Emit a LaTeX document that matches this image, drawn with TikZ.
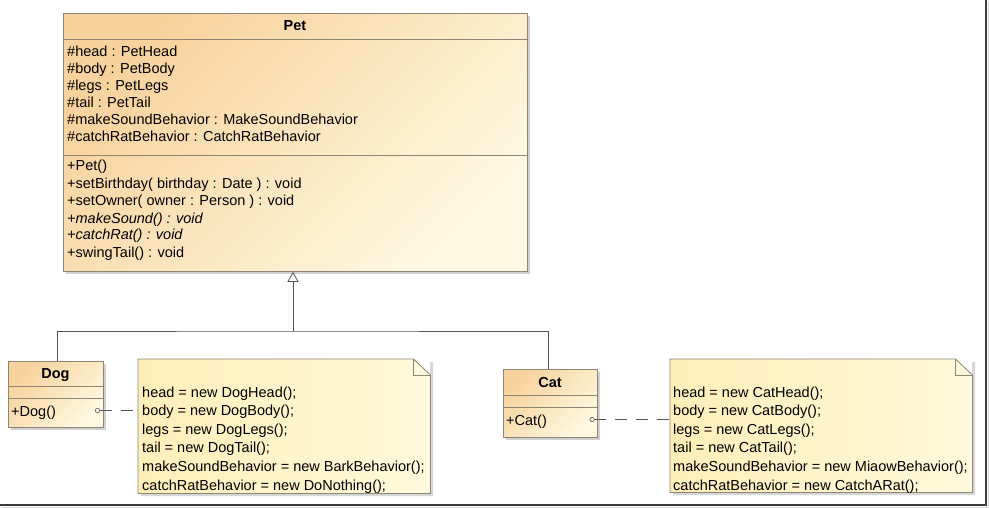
\documentclass[tikz,border=0pt]{standalone}
\usepackage{fontspec}
\setmainfont{Liberation Sans}
\usetikzlibrary{arrows.meta,shadows}
\definecolor{clsA}{HTML}{F7D29C}
\definecolor{clsB}{HTML}{FFF9E2}
\definecolor{noteA}{HTML}{FFEEB8}
\definecolor{noteB}{HTML}{FFF9DC}
\definecolor{edge}{HTML}{8E8574}
\definecolor{lnk}{HTML}{555555}
\definecolor{frame}{HTML}{3C3C3C}
\begin{document}
\begin{tikzpicture}[x=1pt,y=-1pt,
  classbox/.style={draw=edge, line width=0.8pt, top color=clsA, bottom color=clsB, shading angle=45,
    drop shadow={shadow xshift=2.5pt, shadow yshift=-2.5pt, fill=black!40, opacity=0.45},
    inner sep=0pt, anchor=north west},
  notebox/.style={inner sep=0pt, anchor=north west},
  notefill/.style={draw=edge, line width=0.8pt, left color=noteA, right color=noteB},
  sep/.style={draw=edge, line width=0.8pt},
  txt/.style={anchor=base west, inner sep=0pt, font=\fontsize{14.5}{17}\selectfont},
  ttl/.style={anchor=base, inner sep=0pt, font=\fontsize{14.5}{17}\selectfont\bfseries},
  rel/.style={draw=lnk, line width=0.8pt},
  anchorline/.style={draw=lnk, line width=0.8pt, dash pattern=on 12pt off 9pt,
    {Circle[open, length=5pt, width=5pt, fill=white, line width=0.6pt]}-}
]
\useasboundingbox (0,0) rectangle (989,508);

% frame of the screenshot
\fill[black!15] (2,507) -- (988,507) -- (988,2) -- (989,2) -- (989,508) -- (2,508) -- cycle;
\draw[frame, line width=2pt] (0,505) -- (986,505) -- (986,0);

% ---------- Pet ----------
\node[classbox, minimum width=464pt, minimum height=258pt] (pet) at (63,13) {};
\draw[sep] (63,39) -- (527,39);
\draw[sep] (63,155) -- (527,155);
\node[ttl] (petT) at (295,31) {Pet};
\node[txt] (pa1) at (67,57) {\#head : PetHead};
\node[txt] (pa2) at (67,74) {\#body : PetBody};
\node[txt] (pa3) at (67,91) {\#legs : PetLegs};
\node[txt] (pa4) at (67,108) {\#tail : PetTail};
\node[txt] (pa5) at (67,125) {\#makeSoundBehavior : MakeSoundBehavior};
\node[txt] (pa6) at (67,142) {\#catchRatBehavior : CatchRatBehavior};
\node[txt] (pm1) at (67,171) {+Pet()};
\node[txt] (pm2) at (67,188.5) {+setBirthday( birthday : Date ) : void};
\node[txt] (pm3) at (67,206) {+setOwner( owner : Person ) : void};
\node[txt] (pm4) at (67,223) {\itshape +makeSound() : void};
\node[txt] (pm5) at (67,240) {\itshape +catchRat() : void};
\node[txt] (pm6) at (67,257.5) {+swingTail() : void};

% ---------- Dog ----------
\node[classbox, minimum width=95pt, minimum height=66pt] (dog) at (8,361) {};
\draw[sep] (8,386) -- (103,386);
\draw[sep] (8,398) -- (103,398);
\node[ttl] (dogT) at (55.5,378) {Dog};
\node[txt] (dogm) at (11,416) {+Dog()};

% ---------- Cat ----------
\node[classbox, minimum width=94pt, minimum height=68pt] (cat) at (503,369) {};
\draw[sep] (503,395) -- (597,395);
\draw[sep] (503,407) -- (597,407);
\node[ttl] (catT) at (550,387) {Cat};
\node[txt] (catm) at (506,425) {+Cat()};

% ---------- generalization ----------
\coordinate (j) at (293,331);
\draw[rel] (dog.north -| 57,0) |- (j) -| (cat.north -| 548,0);
\draw[rel, -{Triangle[open, length=10pt, width=11pt, line width=0.8pt, fill=white]}] (j) -- (j |- pet.south);

% ---------- Dog note ----------
\node[notebox, minimum width=292pt, minimum height=134pt] (dognote) at (138,359) {};
\fill[black!35, opacity=0.45] (141,496) -- (433,496) -- (433,362) -- (430,362) -- (430,493) -- (141,493) -- cycle;
\path[notefill] (dognote.north west) -- ([xshift=-17pt]dognote.north east) -- ([yshift=-16pt]dognote.north east) -- (dognote.south east) -- (dognote.south west) -- cycle;
\draw[sep] ([xshift=-17pt]dognote.north east) -- ([xshift=-17pt,yshift=-16pt]dognote.north east) -- ([yshift=-16pt]dognote.north east);
\node[txt] (dn1) at (142,397) {head = new DogHead();};
\node[txt] (dn2) at (142,415.6) {body = new DogBody();};
\node[txt] (dn3) at (142,434.2) {legs = new DogLegs();};
\node[txt] (dn4) at (142,452.8) {tail = new DogTail();};
\node[txt] (dn5) at (142,471.4) {makeSoundBehavior = new BarkBehavior();};
\node[txt] (dn6) at (142,490) {catchRatBehavior = new DoNothing();};

% ---------- Cat note ----------
\node[notebox, minimum width=302pt, minimum height=133pt] (catnote) at (670,359) {};
\fill[black!35, opacity=0.45] (673,495) -- (975,495) -- (975,362) -- (972,362) -- (972,492) -- (673,492) -- cycle;
\path[notefill] (catnote.north west) -- ([xshift=-17pt]catnote.north east) -- ([yshift=-16pt]catnote.north east) -- (catnote.south east) -- (catnote.south west) -- cycle;
\draw[sep] ([xshift=-17pt]catnote.north east) -- ([xshift=-17pt,yshift=-16pt]catnote.north east) -- ([yshift=-16pt]catnote.north east);
\node[txt] (cn1) at (673,397) {head = new CatHead();};
\node[txt] (cn2) at (673,415.6) {body = new CatBody();};
\node[txt] (cn3) at (673,434.2) {legs = new CatLegs();};
\node[txt] (cn4) at (673,452.8) {tail = new CatTail();};
\node[txt] (cn5) at (673,471.4) {makeSoundBehavior = new MiaowBehavior();};
\node[txt] (cn6) at (673,490) {catchRatBehavior = new CatchARat();};

% ---------- note anchors ----------
\coordinate (dogop) at (95,410.5);
\coordinate (catop) at (589.5,419.5);
\draw[anchorline] (dogop) -- (dognote.west |- dogop);
\draw[anchorline] (catop) -- (catnote.west |- catop);
\end{tikzpicture}
\end{document}
